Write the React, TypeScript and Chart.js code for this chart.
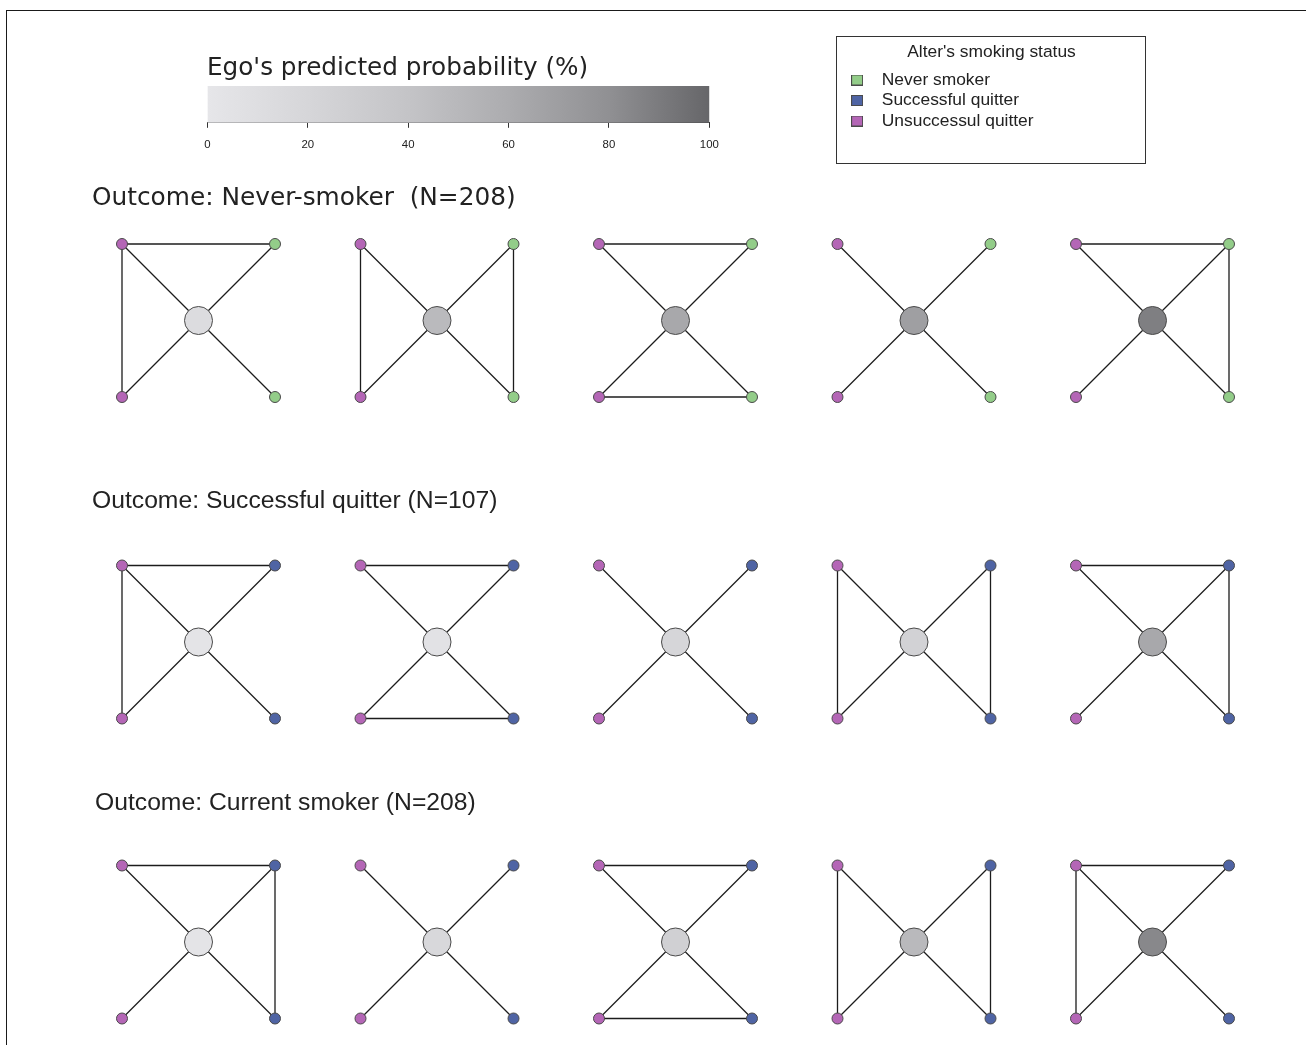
import React, { useEffect, useRef } from "react";
import { Chart, registerables } from "chart.js";

Chart.register(...registerables);

// ------------------------------------------------------------------
// Data
// ------------------------------------------------------------------
const LEGEND_TITLE = "Alter's smoking status";
const STATUS_LABELS = ["Never smoker", "Successful quitter", "Unsuccessul quitter"];

const COLORBAR_TITLE = "Ego's predicted probability (%)";
const COLORBAR_TICKS = [0, 20, 40, 60, 80, 100];
const COLORBAR_GRAY = [230, 214, 196, 172, 144, 102];

const ROW_TITLES = [
  "Outcome: Never-smoker  (N=208)",
  "Outcome: Successful quitter (N=107)",
  "Outcome: Current smoker (N=208)",
];

// Alter status at corners [top-left, top-right, bottom-left, bottom-right]
// 0 = never smoker, 1 = successful quitter, 2 = unsuccessful quitter
const ALTERS_NEVER = [2, 0, 2, 0];
const ALTERS_QUIT = [2, 1, 2, 1];
const ALTERS_CURRENT = [2, 1, 2, 1];

// Ego predicted probability (%) for each of the five networks
const EGO_PROB_NEVER = [12, 48, 63, 69, 88];
const EGO_PROB_QUIT = [2, 5, 20, 25, 63];
const EGO_PROB_CURRENT = [3, 17, 27, 49, 84];

// Alter-alter ties (corner index pairs: 0=TL, 1=TR, 2=BL, 3=BR)
const TIES_NEVER = [
  [[0, 1], [0, 2]],
  [[0, 2], [1, 3]],
  [[0, 1], [2, 3]],
  [],
  [[0, 1], [1, 3]],
];
const TIES_QUIT = [
  [[0, 1], [0, 2]],
  [[0, 1], [2, 3]],
  [],
  [[0, 2], [1, 3]],
  [[0, 1], [1, 3]],
];
const TIES_CURRENT = [
  [[0, 1], [1, 3]],
  [],
  [[0, 1], [2, 3]],
  [[0, 2], [1, 3]],
  [[0, 1], [0, 2]],
];

const ROWS = [
  { title: ROW_TITLES[0], alters: ALTERS_NEVER, probs: EGO_PROB_NEVER, ties: TIES_NEVER },
  { title: ROW_TITLES[1], alters: ALTERS_QUIT, probs: EGO_PROB_QUIT, ties: TIES_QUIT },
  { title: ROW_TITLES[2], alters: ALTERS_CURRENT, probs: EGO_PROB_CURRENT, ties: TIES_CURRENT },
];

// ------------------------------------------------------------------
// Styles & layout
// ------------------------------------------------------------------
const STATUS_COLORS = ["#93cd89", "#4f64a4", "#b466b6"];
const NODE_BORDER = "#4a4a4a";
const EDGE_COLOR = "#1c1c1c";
const TEXT = "#222222";
const SANS = "'Liberation Sans', Arial, sans-serif";
const DEJAVU = "'DejaVu Sans', Verdana, sans-serif";

const PX = 238.5; // pixels per network step
const COL0_X = 198.5; // page x of first ego
const OFFSET = 76.5 / PX; // alter offset from ego (network steps)
const CORNER_SIGNS = [
  [-1, 1],
  [1, 1],
  [-1, -1],
  [1, -1],
];

const ROW_LAYOUT = [
  { titleX: 92, titleY: 199, centerY: 320.5, font: DEJAVU, size: 24.8 },
  { titleX: 92, titleY: 501, centerY: 642, font: SANS, size: 24.7 },
  { titleX: 95, titleY: 803, centerY: 942, font: SANS, size: 24.7 },
];

function grayLevel(p: number): number {
  for (let i = 1; i < COLORBAR_TICKS.length; i++) {
    if (p <= COLORBAR_TICKS[i]) {
      const t = (p - COLORBAR_TICKS[i - 1]) / (COLORBAR_TICKS[i] - COLORBAR_TICKS[i - 1]);
      return COLORBAR_GRAY[i - 1] + t * (COLORBAR_GRAY[i] - COLORBAR_GRAY[i - 1]);
    }
  }
  return COLORBAR_GRAY[COLORBAR_GRAY.length - 1];
}
function grayColor(p: number): string {
  const v = Math.round(grayLevel(p));
  return `rgb(${v},${v},${Math.min(255, v + 3)})`;
}

// ------------------------------------------------------------------
// Colour bar
// ------------------------------------------------------------------
const CB = { left: 194, top: 45, width: 535, height: 121, padL: 13, padB: 4.2 };

function ColorBar() {
  const ref = useRef<HTMLCanvasElement | null>(null);
  useEffect(() => {
    const titleSize = 24.7;
    const titleLH = titleSize * 1.2;
    const tickSize = 11.4;
    const tickLen = 5;
    const titlePadTop = 69 - CB.top - titleLH / 2;
    const titlePadBottom = 86 - CB.top - titlePadTop - titleLH;
    const tickPad = 144 - 122 - tickLen - (tickSize * 1.2) / 2;
    const chart = new Chart(ref.current as HTMLCanvasElement, {
      type: "bar",
      data: {
        labels: [""],
        datasets: [
          {
            data: [COLORBAR_TICKS[COLORBAR_TICKS.length - 1]],
            backgroundColor: (ctx: any) => {
              const area = ctx.chart.chartArea;
              if (!area) return "#bbb";
              const g = ctx.chart.ctx.createLinearGradient(area.left, 0, area.right, 0);
              const maxT = COLORBAR_TICKS[COLORBAR_TICKS.length - 1];
              COLORBAR_TICKS.forEach((t, i) => {
                const v = COLORBAR_GRAY[i];
                g.addColorStop(t / maxT, `rgb(${v},${v},${Math.min(255, v + 3)})`);
              });
              return g;
            },
            borderWidth: 0,
            categoryPercentage: 1,
            barPercentage: 1,
          },
        ],
      },
      options: {
        indexAxis: "y",
        animation: false,
        responsive: false,
        events: [],
        layout: { autoPadding: false, padding: { left: CB.padL, right: 0, top: 0, bottom: CB.padB } },
        plugins: {
          legend: { display: false },
          tooltip: { enabled: false },
          title: {
            display: true,
            text: COLORBAR_TITLE,
            align: "start",
            color: TEXT,
            font: { family: DEJAVU, size: titleSize, weight: "normal" },
            padding: { top: titlePadTop, bottom: titlePadBottom },
          },
        },
        scales: {
          y: { display: false },
          x: {
            type: "linear",
            min: COLORBAR_TICKS[0],
            max: COLORBAR_TICKS[COLORBAR_TICKS.length - 1],
            afterBuildTicks: (axis: any) => {
              axis.ticks = COLORBAR_TICKS.map((v) => ({ value: v }));
            },
            ticks: {
              color: TEXT,
              font: { family: SANS, size: tickSize },
              padding: tickPad,
              maxRotation: 0,
              autoSkip: false,
            },
            grid: {
              display: true,
              drawOnChartArea: false,
              drawTicks: true,
              tickLength: tickLen,
              color: "#333",
            },
            border: { display: true, color: "#333", width: 1 },
          },
        },
      } as any,
    });
    return () => chart.destroy();
  }, []);
  return (
    <canvas
      ref={ref}
      width={CB.width}
      height={CB.height}
      style={{ position: "absolute", left: CB.left, top: CB.top, width: CB.width, height: CB.height }}
    />
  );
}

// ------------------------------------------------------------------
// Legend box
// ------------------------------------------------------------------
const LG = { left: 837, top: 37, width: 308, height: 126 };

function LegendBox() {
  const ref = useRef<HTMLCanvasElement | null>(null);
  useEffect(() => {
    const fs = 17.4;
    const titleLH = fs * 1.2;
    const itemPad = 3.1;
    const titlePadTop = 52 - LG.top - titleLH / 2;
    const titlePadBottom = 80 - LG.top - titlePadTop - titleLH - itemPad - fs / 2;
    const swatches = STATUS_COLORS.map((c) => {
      const cv = document.createElement("canvas");
      cv.width = 12;
      cv.height = 11;
      const g = cv.getContext("2d") as CanvasRenderingContext2D;
      g.fillStyle = c;
      g.fillRect(0, 0, 12, 11);
      g.strokeStyle = NODE_BORDER;
      g.lineWidth = 1;
      g.strokeRect(0.5, 0.5, 11, 10);
      return cv;
    });
    const chart = new Chart(ref.current as HTMLCanvasElement, {
      type: "scatter",
      data: {
        datasets: STATUS_LABELS.map((label, i) => ({
          label,
          data: [],
          backgroundColor: STATUS_COLORS[i],
          borderColor: NODE_BORDER,
        })),
      },
      options: {
        animation: false,
        responsive: false,
        events: [],
        layout: { autoPadding: false, padding: { left: 1, right: 0, top: 0, bottom: 0 } },
        scales: { x: { display: false }, y: { display: false } },
        plugins: {
          tooltip: { enabled: false },
          title: {
            display: true,
            text: LEGEND_TITLE,
            color: TEXT,
            font: { family: SANS, size: fs, weight: "normal" },
            padding: { top: titlePadTop, bottom: titlePadBottom },
          },
          legend: {
            display: true,
            position: "top",
            align: "start",
            labels: {
              color: TEXT,
              font: { family: SANS, size: fs },
              padding: itemPad,
              usePointStyle: true,
              pointStyleWidth: 32,
              boxHeight: 11,
              generateLabels: () =>
                STATUS_LABELS.map((text, i) => ({
                  text,
                  fillStyle: STATUS_COLORS[i],
                  strokeStyle: NODE_BORDER,
                  lineWidth: 1,
                  pointStyle: swatches[i],
                  hidden: false,
                  datasetIndex: i,
                  fontColor: TEXT,
                })),
            },
          },
        },
      } as any,
    });
    return () => chart.destroy();
  }, []);
  return (
    <div
      style={{
        position: "absolute",
        left: LG.left - 1,
        top: LG.top - 1,
        width: LG.width,
        height: LG.height,
        border: "1px solid #333",
      }}
    >
      <canvas ref={ref} width={LG.width} height={LG.height} style={{ display: "block", width: LG.width, height: LG.height }} />
    </div>
  );
}

// ------------------------------------------------------------------
// Network rows
// ------------------------------------------------------------------
function NetworkRow({ r }: { r: number }) {
  const ref = useRef<HTMLCanvasElement | null>(null);
  const L = ROW_LAYOUT[r];
  const lineH = L.size * 1.2;
  const top = Math.round(L.titleY - lineH / 2 - 10);
  const padTop = L.titleY - lineH / 2 - top;
  const padBottom = 8;
  const height = Math.round(L.centerY + 100 - top);
  const left = L.titleX;
  const width = 1306 - left;

  useEffect(() => {
    const row = ROWS[r];
    const areaTop = top + padTop + lineH + padBottom;
    const areaBottom = top + height;
    const corner = (n: number, c: number) => ({
      x: n + CORNER_SIGNS[c][0] * OFFSET,
      y: CORNER_SIGNS[c][1] * OFFSET,
    });
    const edge = (a: any, b: any) => ({
      label: "tie",
      data: [a, b],
      showLine: true,
      borderColor: EDGE_COLOR,
      borderWidth: 1.3,
      pointRadius: 0,
      clip: false,
      order: 2,
    });
    const datasets: any[] = [];
    row.probs.forEach((_p, n) => {
      row.alters.forEach((_s, c) => datasets.push(edge(corner(n, c), { x: n, y: 0 })));
      row.ties[n].forEach(([a, b]) => datasets.push(edge(corner(n, a), corner(n, b))));
    });
    STATUS_LABELS.forEach((label, s) => {
      const pts: any[] = [];
      row.probs.forEach((_p, n) => {
        row.alters.forEach((st, c) => {
          if (st === s) pts.push(corner(n, c));
        });
      });
      datasets.push({
        label,
        data: pts,
        backgroundColor: STATUS_COLORS[s],
        borderColor: NODE_BORDER,
        borderWidth: 1,
        pointRadius: 5.5,
        clip: false,
        order: 1,
      });
    });
    datasets.push({
      label: "Ego",
      data: row.probs.map((_p, n) => ({ x: n, y: 0 })),
      backgroundColor: row.probs.map(grayColor),
      borderColor: NODE_BORDER,
      borderWidth: 1,
      pointRadius: 14,
      clip: false,
      order: 0,
    });

    const chart = new Chart(ref.current as HTMLCanvasElement, {
      type: "scatter",
      data: { datasets },
      options: {
        animation: false,
        responsive: false,
        events: [],
        layout: { autoPadding: false, padding: 0 },
        plugins: {
          legend: { display: false },
          tooltip: { enabled: false },
          title: {
            display: true,
            text: row.title,
            align: "start",
            color: TEXT,
            font: { family: L.font, size: L.size, weight: "normal" },
            padding: { top: padTop, bottom: padBottom },
          },
        },
        scales: {
          x: { type: "linear", display: false, min: (left - COL0_X) / PX, max: (left + width - COL0_X) / PX },
          y: {
            type: "linear",
            display: false,
            min: (L.centerY - areaBottom) / PX,
            max: (L.centerY - areaTop) / PX,
          },
        },
      } as any,
    });
    return () => chart.destroy();
  }, [r]);

  return (
    <canvas
      ref={ref}
      width={width}
      height={height}
      style={{ position: "absolute", left, top, width, height }}
    />
  );
}

export default function App() {
  return (
    <div
      style={{
        position: "absolute",
        left: 0,
        top: 0,
        width: 1306,
        height: 1045,
        overflow: "hidden",
        background: "#ffffff",
      }}
    >
      <div
        style={{
          position: "absolute",
          left: 6,
          top: 10,
          width: 1400,
          height: 1200,
          borderLeft: "1px solid #1a1a1a",
          borderTop: "1px solid #1a1a1a",
        }}
      />
      <ColorBar />
      <LegendBox />
      {ROWS.map((_row, r) => (
        <NetworkRow key={r} r={r} />
      ))}
    </div>
  );
}
